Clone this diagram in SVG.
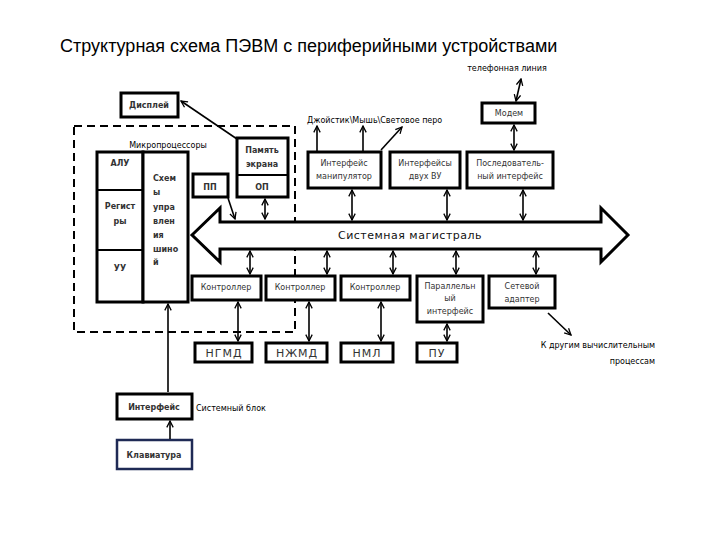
<svg xmlns="http://www.w3.org/2000/svg" width="720" height="540" viewBox="0 0 720 540">
<style>
.box{fill:#fff;stroke:#000;stroke-width:3}
.t{font-family:"DejaVu Sans",sans-serif;font-size:8px;fill:#333;text-anchor:middle}
.b{font-weight:bold}
.l{text-anchor:start}
.big{font-size:11px;letter-spacing:1px}
.c{stroke:#000;stroke-width:1.6;fill:none}
.lab{font-family:"DejaVu Sans",sans-serif;font-size:8px;fill:#000}
</style>
<defs>
<marker id="ah" viewBox="0 0 10 10" refX="9" refY="5" markerWidth="8" markerHeight="8" orient="auto-start-reverse" markerUnits="userSpaceOnUse">
<path d="M1,1 L9,5 L1,9" fill="none" stroke="#000" stroke-width="1.6"/>
</marker>
</defs>
<rect width="720" height="540" fill="#fff"/>
<text x="60" y="52" font-family="Liberation Sans, Arial, sans-serif" font-size="18" fill="#000">Структурная схема ПЭВМ с периферийными устройствами</text>

<g id="sysblock">
<rect x="74" y="126" width="221" height="206" fill="none" stroke="#000" stroke-width="2" stroke-dasharray="8,5"/>
<text class="lab" x="168" y="148" text-anchor="middle">Микропроцессоры</text>
</g>

<g id="bus">
<polygon points="192,235 220,208 220,222 601,222 601,208 628,235 601,262 601,249 220,249 220,262" fill="#fff" stroke="#000" stroke-width="3"/>
<text x="410" y="239" font-family="DejaVu Sans, sans-serif" font-size="11" fill="#111" text-anchor="middle" letter-spacing="0.5">Системная магистраль</text>
</g>

<g id="display"><rect class="box" x="121" y="93" width="57" height="24"/><text class="t b" x="149" y="108">Дисплей</text></g>
<g id="cpu-left">
<rect class="box" x="97" y="152" width="46" height="150"/>
<line x1="97" y1="190" x2="143" y2="190" stroke="#000" stroke-width="2"/>
<line x1="97" y1="250" x2="143" y2="250" stroke="#000" stroke-width="2"/>
<text class="t b" x="120" y="166">АЛУ</text>
<text class="t b" x="120" y="209">Регист</text><text class="t b" x="120" y="224">ры</text>
<text class="t b" x="120" y="271">УУ</text>
</g>
<g id="bus-ctrl"><rect class="box" x="143" y="152" width="45" height="150"/>
<text class="t b l" x="153" y="181">Схем</text><text class="t b l" x="153" y="195">ы</text><text class="t b l" x="153" y="210">упра</text><text class="t b l" x="153" y="224">влен</text><text class="t b l" x="153" y="238">ия</text><text class="t b l" x="153" y="252">шино</text><text class="t b l" x="153" y="265">й</text>
</g>
<g id="screen-mem"><rect class="box" x="237" y="138" width="51" height="59"/>
<line x1="237" y1="175" x2="288" y2="175" stroke="#000" stroke-width="2"/>
<text class="t b" x="262" y="153">Память</text><text class="t b" x="262" y="167">экрана</text><text class="t b" x="262" y="190">ОП</text></g>
<g id="pp"><rect class="box" x="193" y="174" width="35" height="23"/><text class="t b" x="210" y="190">ПП</text></g>

<g id="manip"><rect class="box" x="308" y="152" width="73" height="36"/><text class="t" x="344" y="166">Интерфейс</text><text class="t" x="344" y="179">манипулятор</text></g>
<g id="twovu"><rect class="box" x="390" y="152" width="70" height="36"/><text class="t" x="425" y="166">Интерфейсы</text><text class="t" x="425" y="179">двух ВУ</text></g>
<g id="serial"><rect class="box" x="467" y="152" width="86" height="36"/><text class="t" x="510" y="166">Последователь-</text><text class="t" x="510" y="179">ный интерфейс</text></g>
<g id="modem"><rect class="box" x="482" y="103" width="53" height="20"/><text class="t" x="509" y="116">Модем</text></g>

<g id="ctrl1"><rect class="box" x="192" y="276" width="69" height="24"/><text class="t" x="226" y="290">Контроллер</text></g>
<g id="ctrl2"><rect class="box" x="266" y="276" width="69" height="24"/><text class="t" x="300" y="290">Контроллер</text></g>
<g id="ctrl3"><rect class="box" x="341" y="276" width="69" height="24"/><text class="t" x="375" y="290">Контроллер</text></g>
<g id="parallel"><rect class="box" x="417" y="276" width="66" height="46"/><text class="t" x="450" y="289">Параллельн</text><text class="t" x="450" y="301">ый</text><text class="t" x="450" y="314">интерфейс</text></g>
<g id="net"><rect class="box" x="489" y="276" width="66" height="32"/><text class="t" x="522" y="289">Сетевой</text><text class="t" x="522" y="302">адаптер</text></g>

<g id="ngmd"><rect class="box" x="195" y="343" width="57" height="19"/><text class="t big" x="224" y="357">НГМД</text></g>
<g id="ngmd2"><rect class="box" x="266" y="343" width="61" height="19"/><text class="t big" x="297" y="357">НЖМД</text></g>
<g id="nml"><rect class="box" x="341" y="343" width="52" height="19"/><text class="t big" x="367" y="357">НМЛ</text></g>
<g id="pu"><rect class="box" x="417" y="343" width="40" height="19"/><text class="t big" x="437" y="357">ПУ</text></g>

<g id="iface"><rect class="box" x="117" y="394" width="75" height="25"/><text class="t b" x="154" y="410">Интерфейс</text></g>
<g id="kbd"><rect x="117" y="440" width="75" height="29" fill="#fff" stroke="#1f2a55" stroke-width="2.5"/><text class="t b" x="154" y="458">Клавиатура</text></g>

<g id="labels">
<text class="lab" x="507" y="71" text-anchor="middle">телефонная линия</text>
<text class="lab" x="307" y="123">Джойстик\Мышь\Световое перо</text>
<text class="lab" x="655" y="348" text-anchor="end">К другим вычислительным</text>
<text class="lab" x="655" y="364" text-anchor="end">процессам</text>
<text class="lab" x="196" y="411">Системный блок</text>
</g>

<g id="connectors">
<line class="c" x1="237" y1="139" x2="181" y2="101" marker-end="url(#ah)"/>
<line class="c" x1="228" y1="198" x2="235" y2="219" marker-end="url(#ah)"/>
<line class="c" x1="265" y1="199" x2="265" y2="219" marker-start="url(#ah)" marker-end="url(#ah)"/>
<line class="c" x1="352" y1="190" x2="352" y2="220" marker-start="url(#ah)" marker-end="url(#ah)"/>
<line class="c" x1="447" y1="190" x2="447" y2="220" marker-start="url(#ah)" marker-end="url(#ah)"/>
<line class="c" x1="523" y1="190" x2="523" y2="220" marker-start="url(#ah)" marker-end="url(#ah)"/>
<line class="c" x1="514" y1="125" x2="514" y2="150" marker-start="url(#ah)" marker-end="url(#ah)"/>
<line class="c" x1="516" y1="101" x2="521" y2="79" marker-start="url(#ah)" marker-end="url(#ah)"/>
<line class="c" x1="317" y1="151" x2="317" y2="126" marker-end="url(#ah)"/>
<line class="c" x1="363" y1="151" x2="363" y2="126" marker-end="url(#ah)"/>
<line class="c" x1="381" y1="150" x2="402" y2="127" marker-end="url(#ah)"/>
<line class="c" x1="250" y1="251" x2="250" y2="274" marker-start="url(#ah)" marker-end="url(#ah)"/>
<line class="c" x1="327" y1="251" x2="327" y2="274" marker-start="url(#ah)" marker-end="url(#ah)"/>
<line class="c" x1="393" y1="251" x2="393" y2="274" marker-start="url(#ah)" marker-end="url(#ah)"/>
<line class="c" x1="456" y1="251" x2="456" y2="274" marker-start="url(#ah)" marker-end="url(#ah)"/>
<line class="c" x1="536" y1="251" x2="536" y2="274" marker-start="url(#ah)" marker-end="url(#ah)"/>
<line class="c" x1="238" y1="302" x2="238" y2="341" marker-start="url(#ah)" marker-end="url(#ah)"/>
<line class="c" x1="309" y1="302" x2="309" y2="341" marker-start="url(#ah)" marker-end="url(#ah)"/>
<line class="c" x1="381" y1="302" x2="381" y2="341" marker-start="url(#ah)" marker-end="url(#ah)"/>
<line class="c" x1="447" y1="324" x2="447" y2="341" marker-start="url(#ah)" marker-end="url(#ah)"/>
<line class="c" x1="548" y1="313" x2="571" y2="335" stroke-width="2" marker-end="url(#ah)"/>
<line class="c" x1="168" y1="392" x2="168" y2="304" marker-end="url(#ah)"/>
<line class="c" x1="170" y1="439" x2="170" y2="421" marker-end="url(#ah)"/>
</g>
</svg>
